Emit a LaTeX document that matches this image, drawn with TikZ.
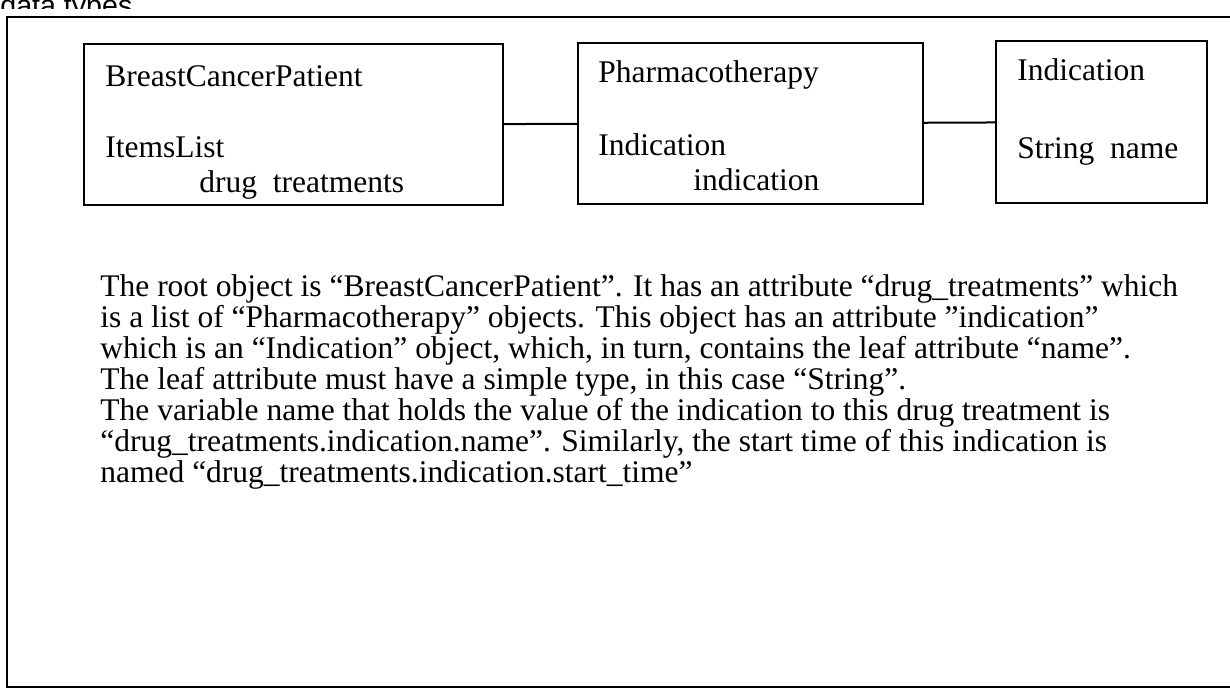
\documentclass[tikz,border=0pt]{standalone}
\usepackage{fontspec}
\setmainfont{Liberation Serif}
\newfontfamily\headfont{Liberation Sans}

\begin{document}
\begin{tikzpicture}[x=0.5pt,y=-0.5pt,
	classbox/.style={draw,line width=1pt,anchor=north west,inner sep=0pt},
	field/.style={anchor=base west,inner sep=0pt,font=\fontsize{15.75pt}{15.5pt}\selectfont},
	link/.style={line width=1pt}]

	\useasboundingbox (0,0) rectangle (1230,687);

	% clipped caption and outer frame
	\begin{scope}
		\clip (0,0) rectangle (300,8);
		\node[anchor=base west,inner sep=0pt,font=\headfont\fontsize{14.3pt}{16pt}\selectfont] (caption) at (0,15) {data types};
	\end{scope}
	\draw[line width=1pt] (1240,17) -- (7,17) -- (7,687) -- (1240,687);

	% class boxes
	\node[classbox,minimum width=209.5pt,minimum height=80.5pt] (patient) at (83,43) {};
	\node[classbox,minimum width=172.5pt,minimum height=80.5pt] (therapy) at (577,42) {};
	\node[classbox,minimum width=105.5pt,minimum height=81pt] (indic) at (995,40) {};

	\node[field] (patienttype) at (105,86) {BreastCancerPatient};
	\node[field] (patientlist) at (105,157) {ItemsList};
	\node[field] (patientattr) at (199,192) {drug\ \ treatments};

	\node[field] (therapytype) at (598,82) {Pharmacotherapy};
	\node[field] (therapylist) at (598,155) {Indication};
	\node[field] (therapyattr) at (693,190) {indication};

	\node[field] (indictype) at (1017,80) {Indication};
	\node[field] (indicattr) at (1017,158) {String\ \ name};

	\draw[link] (patient) -- (therapy);
	\draw[link] (therapy) -- (indic);

	% explanation
	\node[field,align=left] (note) at (100,482) {The root object is “BreastCancerPatient”. It has an attribute “drug\_treatments” which\\
is a list of “Pharmacotherapy” objects. This object has an attribute ”indication”\\
which is an “Indication” object, which, in turn, contains the leaf attribute “name”.\\
The leaf attribute must have a simple type, in this case “String”.\\
The variable name that holds the value of the indication to this drug treatment is\\
“drug\_treatments.indication.name”. Similarly, the start time of this indication is\\
named “drug\_treatments.indication.start\_time”};

\end{tikzpicture}
\end{document}
